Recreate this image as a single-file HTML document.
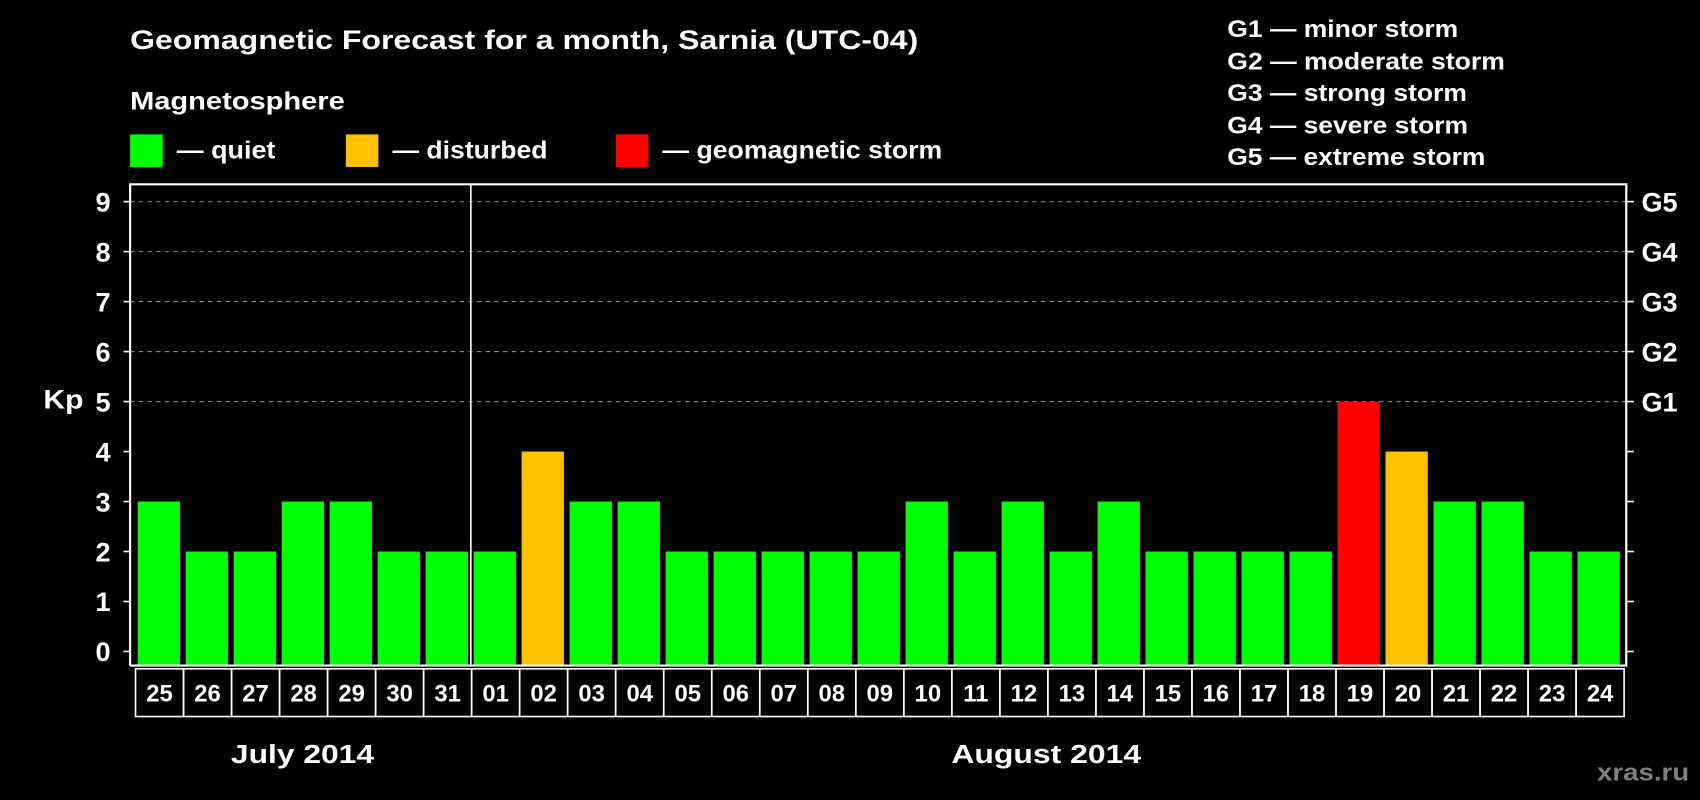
<!DOCTYPE html>
<html><head><meta charset="utf-8"><style>
html,body{margin:0;padding:0;background:#000;width:1700px;height:800px;overflow:hidden}
svg{display:block}
text{font-family:"Liberation Sans",Arial,sans-serif;font-weight:bold;fill:#fff}
</style></head><body>
<svg id="chart" width="1700" height="800" viewBox="0 0 1568 738" preserveAspectRatio="none" xmlns="http://www.w3.org/2000/svg">
<rect width="1568" height="738" fill="#000"/>
<text x="120" y="45" font-size="25" textLength="727" lengthAdjust="spacingAndGlyphs">Geomagnetic Forecast for a month, Sarnia (UTC-04)</text>
<text x="120" y="101" font-size="23" textLength="198" lengthAdjust="spacingAndGlyphs">Magnetosphere</text>
<rect x="120" y="124" width="30" height="30" fill="#00ff00"/>
<text x="163" y="146" font-size="23" textLength="91" lengthAdjust="spacingAndGlyphs">— quiet</text>
<rect x="319" y="124" width="30" height="30" fill="#ffc000"/>
<text x="362" y="146" font-size="23" textLength="143" lengthAdjust="spacingAndGlyphs">— disturbed</text>
<rect x="568" y="124" width="30" height="30" fill="#ff0000"/>
<text x="611" y="146" font-size="23" textLength="258" lengthAdjust="spacingAndGlyphs">— geomagnetic storm</text>
<g font-size="22">
<text x="1132" y="34" textLength="213" lengthAdjust="spacingAndGlyphs">G1 — minor storm</text>
<text x="1132" y="64" textLength="256" lengthAdjust="spacingAndGlyphs">G2 — moderate storm</text>
<text x="1132" y="93" textLength="221" lengthAdjust="spacingAndGlyphs">G3 — strong storm</text>
<text x="1132" y="123" textLength="222" lengthAdjust="spacingAndGlyphs">G4 — severe storm</text>
<text x="1132" y="152" textLength="238" lengthAdjust="spacingAndGlyphs">G5 — extreme storm</text>
</g>
<text x="40" y="377" font-size="25" textLength="37" lengthAdjust="spacingAndGlyphs">Kp</text>
<g id="grid"></g><g id="bars"></g><g id="axes"></g><g id="labels"></g>
<text x="279" y="704" font-size="24" text-anchor="middle" textLength="132" lengthAdjust="spacingAndGlyphs">July 2014</text>
<text x="965" y="704" font-size="24" text-anchor="middle" textLength="175" lengthAdjust="spacingAndGlyphs">August 2014</text>
<text x="1558" y="720" font-size="22" text-anchor="end" style="fill:#7f7f7f" textLength="85" lengthAdjust="spacingAndGlyphs">xras.ru</text>
</svg>
<script>
const days = ["25","26","27","28","29","30","31","01","02","03","04","05","06","07","08","09","10","11","12","13","14","15","16","17","18","19","20","21","22","23","24"];
const kpValues = [3,2,2,3,3,2,2,2,4,3,3,2,2,2,2,2,3,2,3,2,3,2,2,2,2,5,4,3,3,2,2];
const yTicks = ["0","1","2","3","4","5","6","7","8","9"];
const gLabels = ["G1","G2","G3","G4","G5"];
const NS="http://www.w3.org/2000/svg";
const L=120,R=1500,T=170,B=614,y0=601,unit=(601-186)/9,x0=127,pitch=(1455-127)/30,bw=39;
const yS=v=>y0-v*unit, xS=i=>x0+i*pitch;
function mk(tag,attrs,parent){const e=document.createElementNS(NS,tag);for(const k in attrs)e.setAttribute(k,attrs[k]);parent.appendChild(e);return e;}
const grid=document.getElementById('grid'),bars=document.getElementById('bars'),axes=document.getElementById('axes'),labels=document.getElementById('labels');
yTicks.forEach((t,i)=>{const v=+t;const y=yS(v);
 if(v>=5){const g=mk('line',{x1:L,x2:R,y1:y,y2:y,stroke:'#8a8a8a','stroke-width':1,'stroke-dasharray':'4,4'},grid);
 
 }
 const tl=mk('line',{x1:114,x2:R+7,y1:y,y2:y,stroke:'none'},axes);
 const lt=mk('line',{x1:114,x2:L,y1:y,y2:y,stroke:'#fff','stroke-width':1.5},axes);
 
 
 const rt=mk('line',{x1:R,x2:R+7,y1:y,y2:y,stroke:'#fff','stroke-width':1.5},axes);
 
 
 const tx=mk('text',{x:102,y:y+9,'font-size':25,'text-anchor':'end'},axes);tx.textContent=t;
 
 
 if(v>=5){const gt=mk('text',{x:1514,y:y+9,'font-size':25},axes);gt.textContent=gLabels[v-5];
 
 }
});
const colorFor=v=>v>=5?'#ff0000':(v>=4?'#ffc000':'#00ff00');
kpValues.forEach((v,i)=>{const r=mk('rect',{x:xS(i),y:yS(v),width:bw,height:B-yS(v),fill:colorFor(v)},bars);
 
 });
const frame=mk('path',{d:`M${L},${B}V${T}H${R}V${B}H${L}`,fill:'none',stroke:'#fff','stroke-width':2},axes);


const divX=xS(7)-2.6;
const dv=mk('line',{x1:divX,x2:divX,y1:T,y2:B,stroke:'#fff','stroke-width':1.5},axes);


const bx0=125,bx1=1498,cw=(bx1-bx0)/days.length;
days.forEach((d,i)=>{const c=mk('rect',{x:bx0+i*cw,y:617,width:cw,height:44,fill:'none',stroke:'#fff','stroke-width':1.5},labels);
 
 
 const t=mk('text',{x:bx0+i*cw+cw/2,y:647,'font-size':22,'text-anchor':'middle'},labels);t.textContent=d;
 
 });
</script>
</body></html>
